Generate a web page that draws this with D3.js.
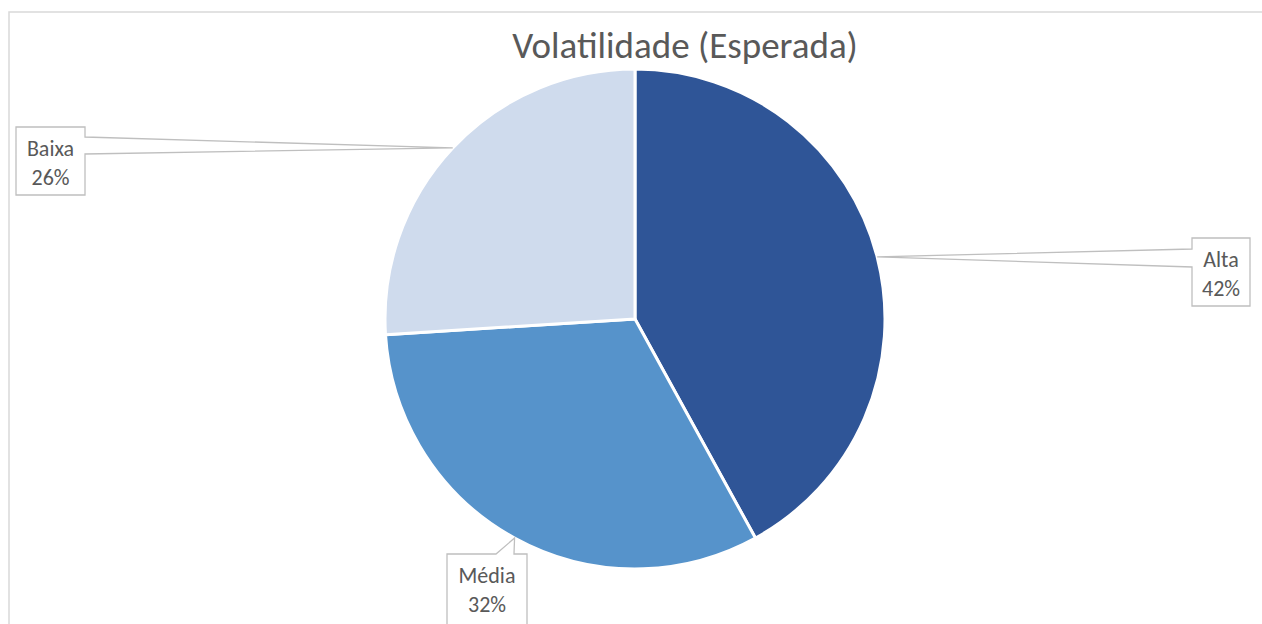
<!DOCTYPE html>
<html>
<head>
<meta charset="utf-8">
<script src="https://d3js.org/d3.v7.min.js"></script>
<style>
  html, body { margin: 0; padding: 0; background: #fff; }
  svg { display: block; font-family: Carlito, Lato, "Open Sans", sans-serif; }
</style>
</head>
<body>
<div id="chart"></div>
<script>
// data
const categories = ["Alta", "Média", "Baixa"];
const shares = [42, 32, 26];
const colors = ["#2F5597", "#5693CB", "#CFDBED"];
const title = "Volatilidade (Esperada)";

// label boxes: [x0, y0, x1, y1], side the pointer leaves from, and wedge span on that side
const callouts = [
  { box: [1192, 238, 1250, 306], side: "left", span: [249, 267] },
  { box: [447, 554, 527, 640], side: "top", span: [496, 514] },
  { box: [16, 127, 85, 195], side: "right", span: [137, 154] }
];

const W = 1262, H = 624;
const cx = 635, cy = 319, r = 250;

const svg = d3.select("#chart").append("svg").attr("width", W).attr("height", H);

// chart frame
svg.append("rect")
  .attr("x", 9).attr("y", 12).attr("width", W + 10).attr("height", H + 10)
  .attr("fill", "#fff").attr("stroke", "#d9d9d9").attr("stroke-width", 1.5);

svg.append("text")
  .attr("x", 685).attr("y", 58)
  .attr("text-anchor", "middle")
  .attr("font-size", 37)
  .attr("fill", "#595959")
  .text(title);

const data = categories.map((c, i) => ({ name: c, value: shares[i], color: colors[i] }));
const pie = d3.pie().value(d => d.value).sort(null);
const arcs = pie(data);
const arc = d3.arc().innerRadius(0).outerRadius(r);

const g = svg.append("g").attr("transform", `translate(${cx},${cy})`);
g.selectAll("path").data(arcs).enter().append("path")
  .attr("d", arc)
  .attr("fill", d => d.data.color)
  .attr("stroke", "#fff")
  .attr("stroke-width", 3)
  .attr("stroke-linejoin", "round");

// callouts
arcs.forEach((a, i) => {
  const mid = (a.startAngle + a.endAngle) / 2;
  const px = cx + r * Math.sin(mid);
  const py = cy - r * Math.cos(mid);
  const c = callouts[i];
  const [x0, y0, x1, y1] = c.box;
  const [s0, s1] = c.span;
  let pts;
  if (c.side === "left") {
    pts = [[x0, y0], [x1, y0], [x1, y1], [x0, y1], [x0, s1], [px, py], [x0, s0]];
  } else if (c.side === "right") {
    pts = [[x0, y0], [x1, y0], [x1, s0], [px, py], [x1, s1], [x1, y1], [x0, y1]];
  } else {
    pts = [[x0, y0], [s0, y0], [px, py], [s1, y0], [x1, y0], [x1, y1], [x0, y1]];
  }
  svg.append("path")
    .attr("d", d3.line()(pts) + "Z")
    .attr("fill", "#fff")
    .attr("stroke", "#bfbfbf")
    .attr("stroke-width", 1.3);

  const tx = (x0 + x1) / 2;
  const ty = y0 + 29;
  const t = svg.append("text")
    .attr("x", tx).attr("y", ty)
    .attr("text-anchor", "middle")
    .attr("font-size", 22)
    .attr("fill", "#595959");
  t.append("tspan").attr("x", tx).text(a.data.name);
  t.append("tspan").attr("x", tx).attr("dy", 29).text(a.data.value + "%");
});
</script>
</body>
</html>
